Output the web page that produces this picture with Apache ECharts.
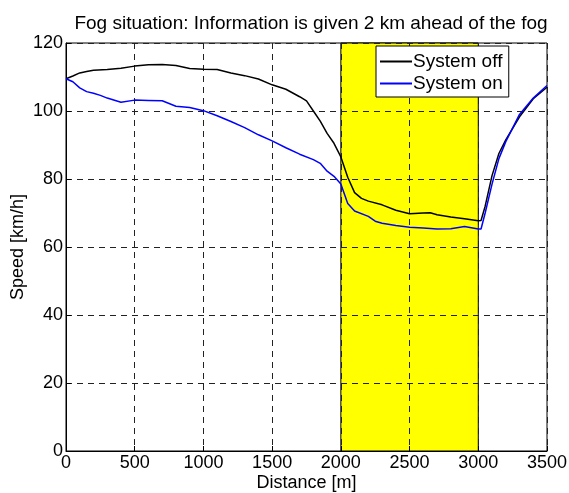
<!DOCTYPE html>
<html>
<head>
<meta charset="utf-8">
<script src="https://cdn.jsdelivr.net/npm/echarts@6/dist/echarts.min.js"></script>
<style>
  html, body { margin: 0; padding: 0; background: #fff; }
  #main { width: 569px; height: 493px; }
</style>
</head>
<body>
<div id="main"></div>
<script>
// distance [m] for "System off"
var distOff = [0, 50, 100, 150, 200, 300, 400, 500, 600, 700, 800, 900, 1000, 1100, 1200, 1300, 1400, 1500,
    1600, 1700, 1750, 1800, 1850, 1900, 1950, 2000, 2050, 2100, 2150, 2200, 2300, 2400, 2500, 2600, 2650,
    2700, 2800, 2900, 3000, 3020, 3050, 3100, 3150, 3200, 3300, 3400, 3500];
var speedOff = [109.5, 110.3, 111.2, 111.6, 112.0, 112.2, 112.6, 113.2, 113.6, 113.7, 113.4, 112.5, 112.3, 112.2,
    111.2, 110.4, 109.4, 107.7, 106.4, 104.2, 103.0, 100.0, 97.0, 93.4, 90.5, 86.5, 80.5, 76.0, 74.3, 73.5, 72.4,
    70.8, 69.8, 70.0, 70.1, 69.5, 68.8, 68.3, 67.7, 67.8, 72.0, 81.0, 87.5, 91.5, 98.3, 103.6, 107.0];

// distance [m] for "System on"
var distOn = [0, 50, 100, 150, 200, 250, 300, 400, 500, 600, 700, 800, 900, 1000, 1100, 1200, 1300, 1400, 1500,
    1600, 1700, 1800, 1850, 1900, 1950, 2000, 2050, 2100, 2200, 2250, 2300, 2400, 2500, 2600, 2700, 2800, 2900,
    3000, 3020, 3050, 3100, 3150, 3200, 3300, 3400, 3500];
var speedOn = [109.5, 108.6, 106.8, 105.7, 105.2, 104.6, 103.8, 102.6, 103.2, 103.1, 103.0, 101.4, 101.0, 100.1,
    98.6, 96.9, 95.1, 93.0, 91.2, 89.2, 87.3, 85.7, 84.6, 82.3, 80.8, 78.5, 72.8, 70.6, 69.0, 67.6, 67.0, 66.3,
    65.8, 65.6, 65.3, 65.4, 66.0, 65.3, 65.3, 70.0, 78.5, 86.0, 91.0, 99.0, 103.8, 107.5];

// fog zone [m]
var fogZone = [2000, 3000];

var xTicks = [0, 500, 1000, 1500, 2000, 2500, 3000, 3500];
var yTicks = [0, 20, 40, 60, 80, 100, 120];

function pairs(xs, ys) {
    return xs.map(function (x, i) { return [x, ys[i]]; });
}

var font = 'Liberation Sans, Arial, sans-serif';
var myChart = echarts.init(document.getElementById('main'));

var option = {
    backgroundColor: '#fff',
    animation: false,
    title: {
        text: 'Fog situation: Information is given 2 km ahead of the fog',
        left: 306, top: 9, textAlign: 'center',
        textStyle: { color: '#000', fontSize: 19, fontWeight: 'normal', fontFamily: font }
    },
    legend: {
        orient: 'vertical',
        left: 376, top: 46,
        backgroundColor: '#fff',
        borderColor: '#000',
        borderWidth: 1,
        borderRadius: 0,
        padding: [6, 6, 4, 4],
        itemGap: 3,
        itemWidth: 32,
        itemHeight: 2,
        icon: 'rect',
        textStyle: { color: '#000', fontSize: 19, fontFamily: font, padding: [0, 0, 0, -4] },
        data: ['System off', 'System on']
    },
    grid: {
        left: 66, right: 22, top: 43, bottom: 42,
        outerBoundsMode: 'none',
        containLabel: false,
        show: true, borderColor: '#000', borderWidth: 1
    },
    xAxis: {
        type: 'value',
        min: xTicks[0], max: xTicks[xTicks.length - 1], interval: 500,
        z: 3,
        name: 'Distance [m]', nameLocation: 'middle', nameGap: 23,
        nameMoveOverlap: false,
        nameTextStyle: { color: '#000', fontSize: 18, fontFamily: font },
        axisLine: { lineStyle: { color: '#000', width: 1 } },
        axisTick: { inside: true, length: 5, lineStyle: { color: '#000' } },
        axisLabel: {
            color: '#000', fontSize: 18, fontFamily: font, margin: 3,
            formatter: function (v) { return String(v); }
        },
        splitLine: { show: true, lineStyle: { color: '#222', type: [6, 5], width: 1 } }
    },
    yAxis: {
        type: 'value',
        min: yTicks[0], max: yTicks[yTicks.length - 1], interval: 20,
        z: 3,
        name: 'Speed [km/h]', nameLocation: 'middle', nameGap: 39,
        nameMoveOverlap: false,
        nameTextStyle: { color: '#000', fontSize: 18, fontFamily: font },
        axisLine: { show: true, lineStyle: { color: '#000', width: 1 } },
        axisTick: { show: true, inside: true, length: 5, lineStyle: { color: '#000' } },
        axisLabel: { color: '#000', fontSize: 18, fontFamily: font, margin: 3 },
        splitLine: { show: true, lineStyle: { color: '#222', type: [6, 5], width: 1 } }
    },
    series: [
        {
            // fog patch, under the grid lines
            name: 'fog',
            type: 'line',
            z: 1,
            data: [],
            markArea: {
                silent: true,
                itemStyle: { color: '#ffff00', borderColor: '#000', borderWidth: 1 },
                data: [[{ xAxis: fogZone[0], yAxis: 0 }, { xAxis: fogZone[1], yAxis: 120 }]]
            }
        },
        {
            name: 'System off',
            type: 'line',
            z: 5,
            symbol: 'none',
            lineStyle: { color: '#000', width: 1.5 },
            itemStyle: { color: '#000' },
            data: pairs(distOff, speedOff)
        },
        {
            name: 'System on',
            type: 'line',
            z: 5,
            symbol: 'none',
            lineStyle: { color: '#0000ff', width: 1.5 },
            itemStyle: { color: '#0000ff' },
            data: pairs(distOn, speedOn)
        }
    ]
};
myChart.setOption(option);
</script>
</body>
</html>
